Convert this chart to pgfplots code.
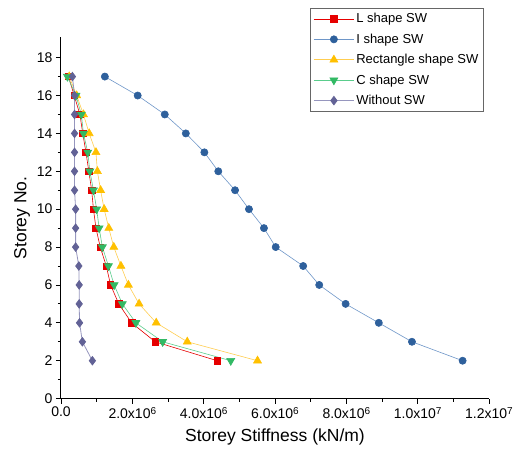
\documentclass[border=0pt]{standalone}
\usepackage{pgfplots}
\pgfplotsset{compat=1.18}
\usepackage{fontspec}
\setmainfont{Liberation Sans}
\definecolor{cL}{RGB}{230,0,0}
\definecolor{cI}{RGB}{46,96,156}
\definecolor{cIl}{RGB}{110,150,200}
\definecolor{cR}{RGB}{255,192,0}
\definecolor{cRl}{RGB}{255,205,80}
\definecolor{cC}{RGB}{50,185,100}
\definecolor{cCl}{RGB}{90,205,140}
\definecolor{cW}{RGB}{98,98,150}
\definecolor{cWl}{RGB}{150,150,190}
\newcommand{\tf}{\fontsize{14}{16}\selectfont}
\newcommand{\sx}[1]{\raisebox{0.6ex}{\fontsize{10}{11}\selectfont #1}}
\begin{document}
\begin{tikzpicture}
\begin{axis}[
  name=ax,
  scale only axis, width=428pt, height=361.6pt,
  xmin=0, xmax=12000000, ymin=0, ymax=19.09,
  axis x line*=bottom, axis y line*=left,
  tick align=outside,
  major tick length=5pt, minor tick length=3pt,
  xtick={0,2000000,4000000,6000000,8000000,10000000,12000000},
  minor xtick={1000000,3000000,5000000,7000000,9000000,11000000},
  xticklabels={{\tf 0.0},{\tf 2.0x10\sx{6}},{\tf 4.0x10\sx{6}},{\tf 6.0x10\sx{6}},{\tf 8.0x10\sx{6}},{\tf 1.0x10\sx{7}},{\tf 1.2x10\sx{7}}},
  scaled x ticks=false,
  ytick={0,2,...,18},
  yticklabels={{\tf 0},{\tf 2},{\tf 4},{\tf 6},{\tf 8},{\tf 10},{\tf 12},{\tf 14},{\tf 16},{\tf 18}},
  minor ytick={1,3,...,17},
  xlabel={Storey Stiffness (kN/m)},
  ylabel={Storey No.},
  label style={font=\fontsize{17.5}{20}\selectfont},
  xlabel style={yshift=-3pt},
  ylabel style={yshift=0pt},
  axis line style={line width=1pt},
  every tick/.style={black, line width=0.8pt},
  legend style={at={(0.582,1.080)}, anchor=north west, draw=gray!80!black, line width=0.8pt,
    font=\fontsize{13}{15}\selectfont, row sep=5.5pt, inner sep=3pt},
  legend cell align=left,
  legend image code/.code={\draw[#1] (0cm,0cm) -- (40pt,0cm); \draw[#1, mark repeat=2, mark phase=2] plot coordinates {(0pt,0cm) (20pt,0cm) (40pt,0cm)};},
  clip=false,
]
\addplot[color=cL, line width=0.6pt, mark=square*, mark size=3.2pt, mark options={fill=cL, draw=cL}] coordinates {
(4380000,2) (2640000,3) (1980000,4) (1620000,5) (1390000,6) (1270000,7) (1100000,8) (980000,9) (910000,10) (860000,11) (780000,12) (700000,13) (610000,14) (530000,15) (370000,16) (210000,17)};
\addlegendentry{L shape SW}
\addplot[color=cIl, line width=0.6pt, mark=*, mark size=3.6pt, mark options={fill=cI, draw=cI}] coordinates {
(11260000,2) (9840000,3) (8910000,4) (7980000,5) (7240000,6) (6790000,7) (6020000,8) (5690000,9) (5270000,10) (4880000,11) (4410000,12) (4020000,13) (3500000,14) (2910000,15) (2150000,16) (1230000,17)};
\addlegendentry{I shape SW}
\addplot[color=cRl, line width=0.6pt, mark=triangle*, mark size=4.6pt, mark options={fill=cR, draw=cR}] coordinates {
(5510000,2) (3540000,3) (2670000,4) (2190000,5) (1890000,6) (1680000,7) (1480000,8) (1340000,9) (1210000,10) (1110000,11) (1020000,12) (980000,13) (790000,14) (630000,15) (440000,16) (230000,17)};
\addlegendentry{Rectangle shape SW}
\addplot[color=cCl, line width=0.6pt, mark=triangle*, mark size=4.6pt, mark options={fill=cC, draw=cC, rotate=180}] coordinates {
(4760000,2) (2850000,3) (2100000,4) (1720000,5) (1490000,6) (1330000,7) (1160000,8) (1070000,9) (1000000,10) (910000,11) (810000,12) (750000,13) (630000,14) (570000,15) (420000,16) (180000,17)};
\addlegendentry{C shape SW}
\addplot[color=cWl, line width=0.8pt, mark=diamond*, mark size=4.2pt, mark options={fill=cW, draw=cW}] coordinates {
(880000,2) (600000,3) (520000,4) (510000,5) (510000,6) (500000,7) (410000,8) (410000,9) (410000,10) (380000,11) (380000,12) (380000,13) (380000,14) (380000,15) (380000,16) (320000,17)};
\addlegendentry{Without SW}
\end{axis}
\path (ax.south west) ++(-61pt,-62.4pt) coordinate (bl);
\path (ax.north east) ++(36pt,37pt) coordinate (tr);
\useasboundingbox (bl) rectangle (tr);
\end{tikzpicture}
\end{document}
